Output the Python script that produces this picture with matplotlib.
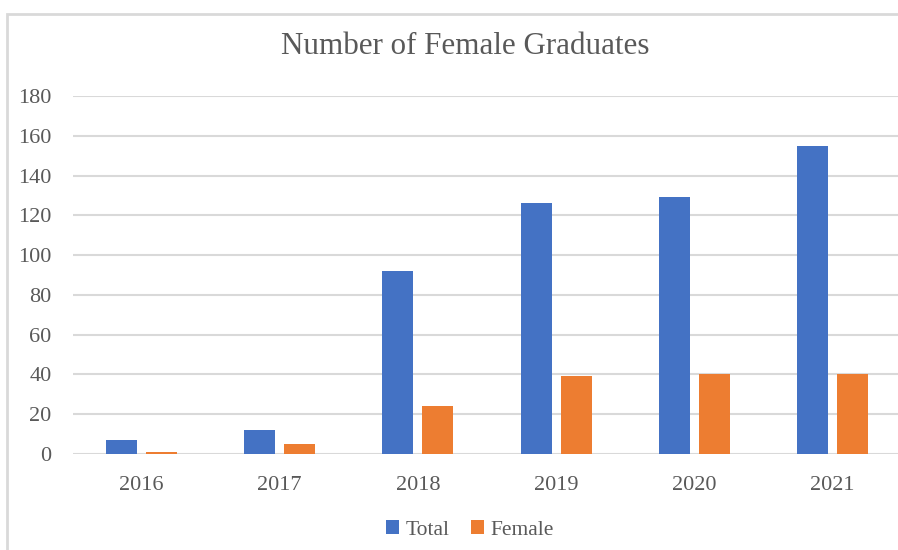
import matplotlib.pyplot as plt
import numpy as np
from matplotlib.patches import Rectangle

years = ["2016", "2017", "2018", "2019", "2020", "2021"]
total = [7, 12, 92, 126, 129, 155]
female = [1, 5, 24, 39, 40, 40]

blue = "#4472C4"
orange = "#ED7D31"
grey = "#595959"

plt.rcParams["font.family"] = ["Liberation Serif", "DejaVu Serif"]

fig = plt.figure(figsize=(8.98, 5.5), dpi=100)

# outer chart border (runs off the right and bottom edges)
fig.patches.append(Rectangle((7 / 898, -0.1), 1.2, 1 - 14 / 550 + 0.1,
                             transform=fig.transFigure, fill=False,
                             edgecolor="#D9D9D9", linewidth=2))

ax = fig.add_axes([72.5 / 898, 1 - 454 / 550, 829 / 898, 358 / 550])

x = np.arange(len(years))
w = 0.224
off = 0.145
ax.bar(x - off, total, w, color=blue, label="Total", zorder=3)
ax.bar(x + off, female, w, color=orange, label="Female", zorder=3)

ax.set_xlim(-0.5, len(years) - 0.5)
ax.set_ylim(0, 180)
ax.set_yticks(range(0, 181, 20))
ax.set_xticks(x)
ax.set_xticklabels(years)
ax.yaxis.grid(True, color="#D9D9D9", linewidth=1.5, zorder=0)
for s in ax.spines.values():
    s.set_visible(False)
ax.tick_params(axis="both", length=0, labelsize=16, labelcolor=grey)
ax.tick_params(axis="y", pad=15)
ax.tick_params(axis="x", pad=16)

fig.text(465 / 898, 1 - 46 / 550, "Number of Female Graduates",
         ha="center", va="center", fontsize=22.3, color=grey)

fig.legend(loc="center", bbox_to_anchor=(470 / 898, 1 - 530 / 550), ncol=2,
           frameon=False, fontsize=15.5, handlelength=0.6, handleheight=0.6,
           handletextpad=0.3, columnspacing=1.0, labelcolor=grey)

fig.savefig("out.png", dpi=100)
